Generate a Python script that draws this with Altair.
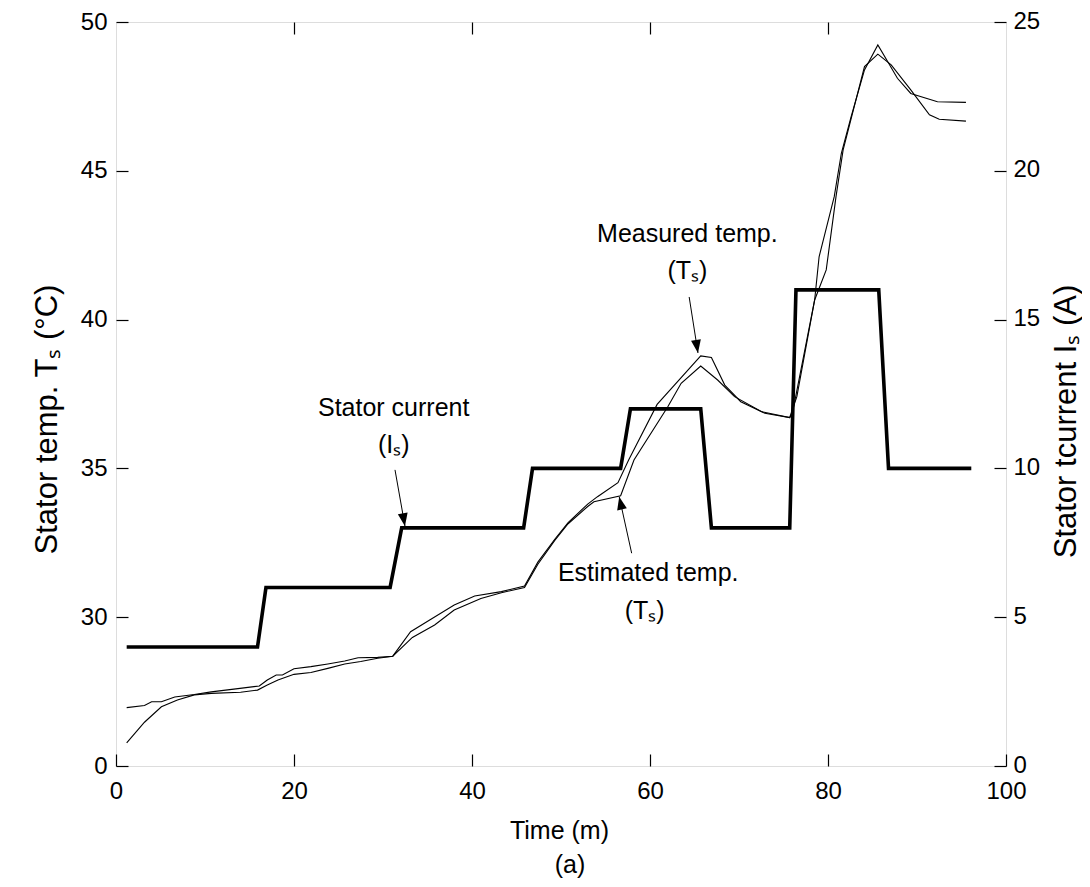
import math
import altair as alt
import pandas as pd

# ---------------- data ----------------
time_measured = [1.2, 3.2, 4.0, 5.1, 6.6, 8.8, 10.7, 13.7, 16.1, 17.0, 18.0, 18.7, 20.0, 21.9,
                 23.8, 25.7, 27.2, 29.4, 31.1, 33.1, 35.2, 38.0, 40.3, 43.3, 45.9, 47.4, 49.3,
                 50.8, 53.0, 54.1, 56.4, 57.6, 60.8, 65.7, 66.9, 68.4, 70.2, 72.9, 75.7, 76.5,
                 78.5, 79.0, 80.7, 81.5, 82.6, 84.1, 85.6, 86.7, 87.8, 89.3, 92.3, 95.5]
temp_measured = [26.96, 27.03, 27.16, 27.16, 27.32, 27.40, 27.49, 27.60, 27.69, 27.89, 28.06,
                 28.06, 28.27, 28.34, 28.43, 28.53, 28.64, 28.65, 28.69, 29.51, 29.90, 30.41,
                 30.71, 30.86, 31.05, 31.85, 32.62, 33.18, 33.80, 34.05, 34.52, 35.28, 37.15,
                 38.78, 38.73, 37.80, 37.24, 36.85, 36.71, 37.41, 40.66, 42.11, 44.13, 45.59,
                 46.82, 48.39, 49.23, 48.67, 48.11, 47.60, 47.32, 47.30]

time_estimated = [1.2, 3.2, 5.1, 6.9, 8.8, 10.7, 14.0, 15.9, 17.0, 18.2, 20.0, 21.9, 23.8, 25.7,
                  27.5, 29.4, 31.1, 33.3, 35.8, 38.0, 41.0, 43.3, 45.9, 47.4, 49.3, 50.8, 53.0,
                  53.7, 56.7, 58.2, 62.0, 63.5, 65.7, 67.6, 69.5, 72.5, 75.7, 76.0, 78.5, 79.8,
                  80.9, 81.7, 84.1, 85.6, 87.1, 89.3, 91.4, 92.5, 95.5]
temp_estimated = [25.78, 26.47, 26.99, 27.22, 27.39, 27.44, 27.48, 27.55, 27.72, 27.89, 28.08,
                  28.14, 28.28, 28.43, 28.51, 28.62, 28.69, 29.32, 29.74, 30.24, 30.63, 30.82,
                  31.00, 31.78, 32.58, 33.14, 33.72, 33.88, 34.08, 35.28, 37.07, 37.86, 38.44,
                  37.97, 37.41, 36.91, 36.71, 36.85, 40.66, 41.67, 44.13, 45.70, 48.50, 48.92,
                  48.56, 47.72, 46.88, 46.73, 46.67]

time_current = [1.2, 15.9, 16.85, 30.8, 32.1, 45.8, 46.8, 56.7, 57.8, 65.7, 66.9, 75.7, 76.4,
                85.7, 86.8, 96.1]
current_A = [4, 4, 6, 6, 8, 8, 10, 10, 12, 12, 8, 8, 16, 16, 10, 10]

x_ticks = [0, 20, 40, 60, 80, 100]
x_top_ticks = [20, 40, 60, 80]
temp_ticks = [25, 30, 35, 40, 45, 50]
current_ticks = [0, 5, 10, 15, 20, 25]

# annotation texts (positions in time / left-axis units)
ann_label = ["Measured temp.", "(Tₛ)", "Stator current", "(Iₛ)", "Estimated temp.", "(Tₛ)"]
ann_t = [64.2, 64.2, 31.2, 31.2, 59.8, 59.4]
ann_T = [42.88, 41.63, 37.03, 35.79, 31.49, 30.21]

# arrows: start -> tip (time / left-axis units)
arrow_t0 = [64.4, 31.35, 57.94]
arrow_T0 = [40.76, 34.95, 32.15]
arrow_t1 = [65.39, 32.47, 56.54]
arrow_T1 = [38.88, 33.06, 34.05]

# ---------------- chart ----------------
W, H = 890, 744
X_DOM, T_DOM, I_DOM = [0, 100], [25, 50], [0, 25]
FONT = "Liberation Sans"

xs = alt.Scale(domain=X_DOM, nice=False, zero=False)
ts = alt.Scale(domain=T_DOM, nice=False, zero=False)
cs = alt.Scale(domain=I_DOM, nice=False, zero=False)

common = dict(domain=False, grid=False, ticks=True, tickColor="black", tickWidth=1.2,
              tickSize=12, offset=-12, labelFont=FONT, labelFontSize=24,
              labelColor="black", labelFlush=False, labelOverlap=False,
              titleFont=FONT, titleColor="black", titleFontWeight="normal",
              titleAlign="center", titleBaseline="middle")

x_axis = alt.Axis(orient="bottom", values=x_ticks, labelPadding=13, title="Time (m)",
                  titleFontSize=25, titleX=443, titleY=76, **common)
x_axis_top = alt.Axis(orient="top", values=x_top_ticks, labels=False, domain=False,
                      grid=False, tickColor="black", tickWidth=1.2, tickSize=12, offset=-12,
                      title=None)
y_left = alt.Axis(orient="left", values=temp_ticks,
                  labelExpr="datum.value == 25 ? '0' : datum.label", labelPadding=9,
                  title="Stator temp. Tₛ (°C)", titleFontSize=31, titleAngle=270,
                  titleX=-81, titleY=397, **common)
y_right = alt.Axis(orient="right", values=current_ticks, labelPadding=7, labelOffset=-1,
                   title="Stator tcurrent Iₛ (A)", titleFontSize=31, titleAngle=270,
                   titleX=72, titleY=399, **common)

temp_df = pd.DataFrame({
    "t": time_measured + time_estimated,
    "T": temp_measured + temp_estimated,
    "series": ["Measured"] * len(time_measured) + ["Estimated"] * len(time_estimated),
})
cur_df = pd.DataFrame({"t": time_current, "I": current_A, "i": list(range(len(time_current)))})
ann_df = pd.DataFrame({"label": ann_label, "t": ann_t, "T": ann_T})


def head_angle(t0, T0, t1, T1):
    dx = (t1 - t0) * W / (X_DOM[1] - X_DOM[0])
    dy = -(T1 - T0) * H / (T_DOM[1] - T_DOM[0])
    n = math.hypot(dx, dy)
    return math.degrees(math.atan2(-dx / n, dy / n)) % 360


arr_df = pd.DataFrame({"t0": arrow_t0, "T0": arrow_T0, "t1": arrow_t1, "T1": arrow_T1})
arr_df["angle"] = [head_angle(a, b, c, d) for a, b, c, d in
                   zip(arrow_t0, arrow_T0, arrow_t1, arrow_T1)]

temp_lines = alt.Chart(temp_df).mark_line(color="black", strokeWidth=1.1).encode(
    x=alt.X("t:Q", scale=xs, axis=x_axis),
    y=alt.Y("T:Q", scale=ts, axis=y_left),
    detail="series:N",
)

arrow_lines = alt.Chart(arr_df).mark_rule(color="black", strokeWidth=1).encode(
    x=alt.X("t0:Q", scale=xs, axis=x_axis),
    y=alt.Y("T0:Q", scale=ts, axis=y_left),
    x2="t1:Q",
    y2="T1:Q",
)

HEAD = "M0,0L-0.38,-1L0.38,-1Z"
heads = alt.Chart(arr_df).mark_point(shape=HEAD, filled=True, color="black", opacity=1,
                                     size=676, strokeWidth=0).encode(
    x=alt.X("t1:Q", scale=xs, axis=x_axis),
    y=alt.Y("T1:Q", scale=ts, axis=y_left),
    angle=alt.Angle("angle:Q", scale=None),
)

texts = alt.Chart(ann_df).mark_text(font=FONT, fontSize=25, color="black", align="center",
                                    baseline="middle").encode(
    x=alt.X("t:Q", scale=xs, axis=x_axis),
    y=alt.Y("T:Q", scale=ts, axis=y_left),
    text="label:N",
)

caption = alt.Chart(pd.DataFrame({"label": ["(a)"]})).mark_text(
    font=FONT, fontSize=25, color="black", align="center", baseline="middle"
).encode(x=alt.value(454), y=alt.value(843), text="label:N")

temp_group = alt.layer(temp_lines, arrow_lines, heads, texts, caption)

current_line = alt.Chart(cur_df).mark_line(color="black", strokeWidth=3.6,
                                           strokeJoin="miter").encode(
    x=alt.X("t:Q", scale=xs, axis=x_axis_top),
    y=alt.Y("I:Q", scale=cs, axis=y_right),
    order="i:Q",
)

chart = alt.layer(temp_group, current_line).resolve_scale(
    x="independent", y="independent"
).properties(
    width=W,
    height=H,
    autosize=alt.AutoSizeParams(type="none"),
    padding={"left": 108, "top": 14, "right": 76, "bottom": 113},
).configure_view(
    stroke="black", strokeWidth=1.5
).configure(background="white")

chart.save("out.html", embed_options={"renderer": "svg", "actions": False})
